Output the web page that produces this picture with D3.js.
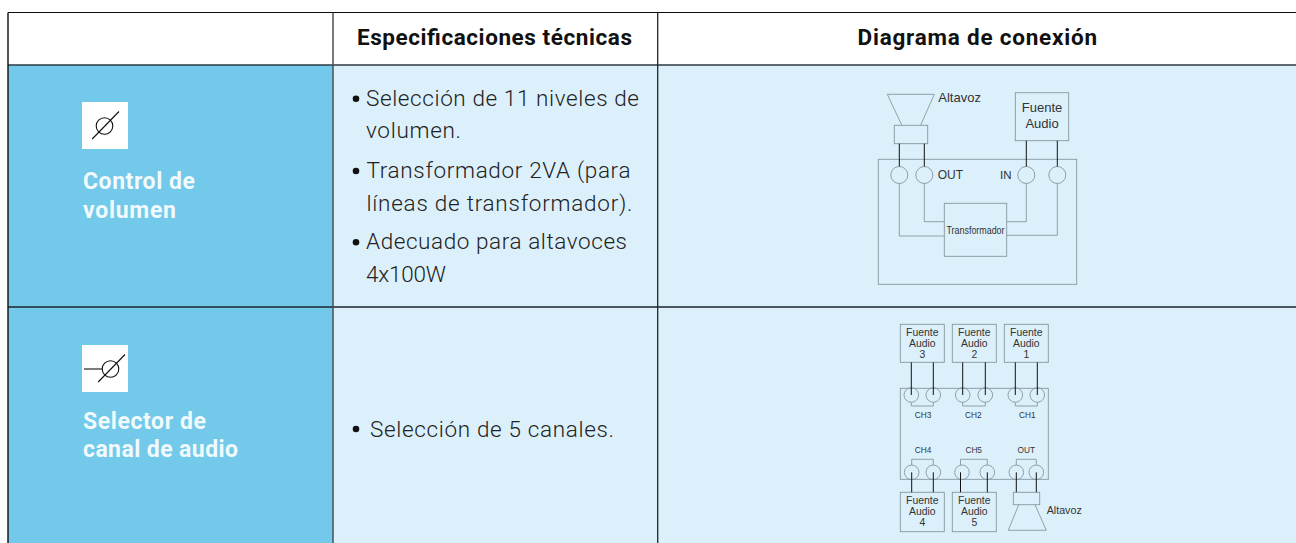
<!DOCTYPE html>
<html><head><meta charset="utf-8">
<style>html,body{margin:0;padding:0;background:#fff}svg{display:block}</style>
<script src="https://cdn.jsdelivr.net/npm/d3@7/dist/d3.min.js"></script></head>
<body><svg id="c" width="1296" height="543"></svg>
<script>
// ---- content ----
const headers = ["Especificaciones técnicas", "Diagrama de conexión"];
const rowTitles = [["Control de", "volumen"], ["Selector de", "canal de audio"]];
const specsRow1 = [
  {t:"Selección de 11 niveles de", b:true}, {t:"volumen.", b:false},
  {t:"Transformador 2VA (para", b:true}, {t:"líneas de transformador).", b:false},
  {t:"Adecuado para altavoces", b:true}, {t:"4x100W", b:false}];
const specsRow2 = [{t:"Selección de 5 canales.", b:true}];
const sourcesRow2Top = ["3", "2", "1"];
const sourcesRow2Bottom = ["4", "5"];
const channelsTop = ["CH3", "CH2", "CH1"];
const channelsBottom = ["CH4", "CH5", "OUT"];

// ---- layout ----
const svg = d3.select("#c");
const INK = "#111", BLUE = "#72c9e9", PALE = "#dcf0fb", LINE = "#87969e", LBL = "#333";
const X = [8, 333, 657.7, 1296], Y = [12.5, 65, 307, 543];
const UI = "Roboto, sans-serif", ARIAL = "'Liberation Sans', Arial, sans-serif";

svg.append("rect").attr("x",X[0]).attr("y",Y[1]).attr("width",X[1]-X[0]).attr("height",Y[3]-Y[1]).attr("fill",BLUE);
svg.append("rect").attr("x",X[1]).attr("y",Y[1]).attr("width",X[3]-X[1]).attr("height",Y[3]-Y[1]).attr("fill",PALE);

function seg(x1,y1,x2,y2,col,w){svg.append("line").attr("x1",x1).attr("y1",y1).attr("x2",x2).attr("y2",y2).attr("stroke",col).attr("stroke-width",w);}
seg(X[0],Y[0],X[3],Y[0],"#0c0c0c",1);
seg(X[0],Y[1],X[3],Y[1],"#2b3a42",1.6);
seg(X[0],Y[2],X[3],Y[2],"#1c2328",1.3);
seg(X[0],Y[0],X[0],Y[3],"#1a1a1a",1.5);
seg(X[1],Y[0],X[1],Y[3],"#474f55",1.5);
seg(X[2],Y[0],X[2],Y[3],"#1f262b",1.3);

function fit(sel,w){ // stretch spacing so the run of text fills the measured width
  sel.attr("textLength",w).attr("lengthAdjust","spacing"); return sel;}
function txt(s,x,y,o){
  const t=svg.append("text").attr("x",x).attr("y",y).text(s)
   .attr("font-family",o.f||UI).attr("font-size",o.s).attr("font-weight",o.w||400)
   .attr("fill",o.c||INK).attr("text-anchor",o.a||"start");
  if(o.l) fit(t,o.l); return t;}

// header
const headerGeom=[[357,45,275],[857.5,45,239.5]];
headers.forEach((h,i)=>txt(h,headerGeom[i][0],headerGeom[i][1],{s:22.5,w:700,c:"#111",l:headerGeom[i][2]}));

// row titles
const titleGeom=[[[83,189.3,112],[83,218,93]],[[83,428.7,123],[83,457.3,155]]];
rowTitles.forEach((r,i)=>r.forEach((s,j)=>{const g=titleGeom[i][j];txt(s,g[0],g[1],{s:23,w:700,c:"#f1fafd",l:g[2]});}));

// icons
[[82,102,false],[82,345,true]].forEach(([x,y,stem])=>{
  svg.append("rect").attr("x",x).attr("y",y).attr("width",46).attr("height",47).attr("fill","#fff");
  const cx = stem ? x+28.5 : x+22.5, cy=y+24;
  svg.append("circle").attr("cx",cx).attr("cy",cy).attr("r",8.3).attr("fill","none").attr("stroke","#111").attr("stroke-width",1.1);
  seg(cx-12.3,cy+13,cx+14.5,cy-14.5,"#111",1.1);
  if(stem) seg(x+2,cy,cx-8,cy,"#111",1.1);
});

// specs
const specGeom1=[[366,105.7,273],[366,137.7,95],[366.5,178,264],[366.5,210.7,266],[366,249.3,261],[366,281.7,80]];
specsRow1.forEach((d,i)=>{const g=specGeom1[i];
  txt(d.t,g[0],g[1],{s:22.5,w:300,c:"#222",l:g[2]});
  if(d.b) svg.append("circle").attr("cx",356).attr("cy",g[1]-7).attr("r",3.3).attr("fill","#111");});
specsRow2.forEach(d=>{txt(d.t,370,436.7,{s:22.5,w:300,c:"#222",l:244});
  if(d.b) svg.append("circle").attr("cx",356).attr("cy",429).attr("r",3.3).attr("fill","#111");});

// diagram helpers
function box(x1,y1,x2,y2){svg.append("rect").attr("x",x1).attr("y",y1).attr("width",x2-x1).attr("height",y2-y1).attr("fill","none").attr("stroke",LINE).attr("stroke-width",.9);}
function ring(x,y,r){svg.append("circle").attr("cx",x).attr("cy",y).attr("r",r).attr("fill","none").attr("stroke",LINE).attr("stroke-width",.9);}
const path=d3.line();
function poly(p,col,w){svg.append("path").attr("d",path(p)).attr("fill","none").attr("stroke",col||LINE).attr("stroke-width",w||.9);}
function wire(x,y1,y2){seg(x,y1,x,y2,"#111",1);}
function lbl(s,x,y,size,a,l){const t=txt(s,x,y,{f:ARIAL,s:size,c:LBL,a:a}); if(l) fit(t,l); return t;}

// diagram 1
box(878.3,159.3,1076.7,284.3);
poly([[901.7,125],[887.3,94.3],[934.3,94.3],[920.7,125]]);
box(894.3,125.3,927.7,143.7);
box(1015.3,92.7,1068.7,140.7);
box(944.3,203.3,1006.7,256.3);
[899.3,924.3,1026.3,1057.3].forEach(x=>ring(x,175,8.5));
wire(899.3,143.7,166.5);wire(924.3,143.7,166.5);wire(1026.3,140.7,166.5);wire(1057.3,140.7,166.5);
poly([[924.3,183.5],[924.3,221.7],[944.3,221.7]]);
poly([[899.3,183.5],[899.3,236],[944.3,236]]);
poly([[1026.3,183.5],[1026.3,221.7],[1006.7,221.7]]);
poly([[1057.3,183.5],[1057.3,235.3],[1006.7,235.3]]);
lbl("Altavoz",938.3,101.5,13);
lbl("OUT",937.7,179,12);
lbl("IN",1000,179,11.5);
lbl("Fuente",1042,112,13,"middle");
lbl("Audio",1042,128,13,"middle");
lbl("Transformador",946.5,233.5,11,"start",58).attr("lengthAdjust","spacingAndGlyphs");

// diagram 2
box(900.3,388.3,1048.3,479.3);
const topBoxes=[900.3,952.3,1004.3];
sourcesRow2Top.forEach((n,i)=>{const x=topBoxes[i];box(x,324.3,x+44,362.3);
  lbl("Fuente",x+22,335.7,10.4,"middle");lbl("Audio",x+22,346.7,10.4,"middle");lbl(n,x+22,357.7,10.4,"middle");});
const botBoxes=[900.3,952.3];
sourcesRow2Bottom.forEach((n,i)=>{const x=botBoxes[i];box(x,492.3,x+44,531.7);
  lbl("Fuente",x+22,504.3,10.4,"middle");lbl("Audio",x+22,515.3,10.4,"middle");lbl(n,x+22,526.3,10.4,"middle");});
const topPairs=[[911.3,933.3],[962.7,985.3],[1015.3,1037.3]];
const botPairs=[[911.7,933.3],[960.5,987.3],[1016.3,1036.3]];
topPairs.forEach(([a,b])=>{ring(a,395,7.3);ring(b,395,7.3);wire(a,362.3,395);wire(b,362.3,395);
  poly([[a,402.3],[a,406],[b,406],[b,402.3]]);});
botPairs.forEach(([a,b],i)=>{const ca=i==1?962:a;ring(ca,472.3,7.3);ring(b,472.3,7.3);wire(a,472.3,492.3);wire(b,472.3,492.3);
  poly([[a,465],[a,459.3],[b,459.3],[b,465]]);});
[923,973.3,1027.3].forEach((x,i)=>lbl(channelsTop[i],x,418.3,8.3,"middle"));
[923,973.7,1026.3].forEach((x,i)=>lbl(channelsBottom[i],x,453.3,8.3,"middle"));
box(1013.3,492.3,1039.7,504.7);
poly([[1018.7,504.7],[1008.3,530.3],[1046.3,530.3],[1035,504.7]]);
lbl("Altavoz",1046.7,514.3,10.7);
</script></body></html>
